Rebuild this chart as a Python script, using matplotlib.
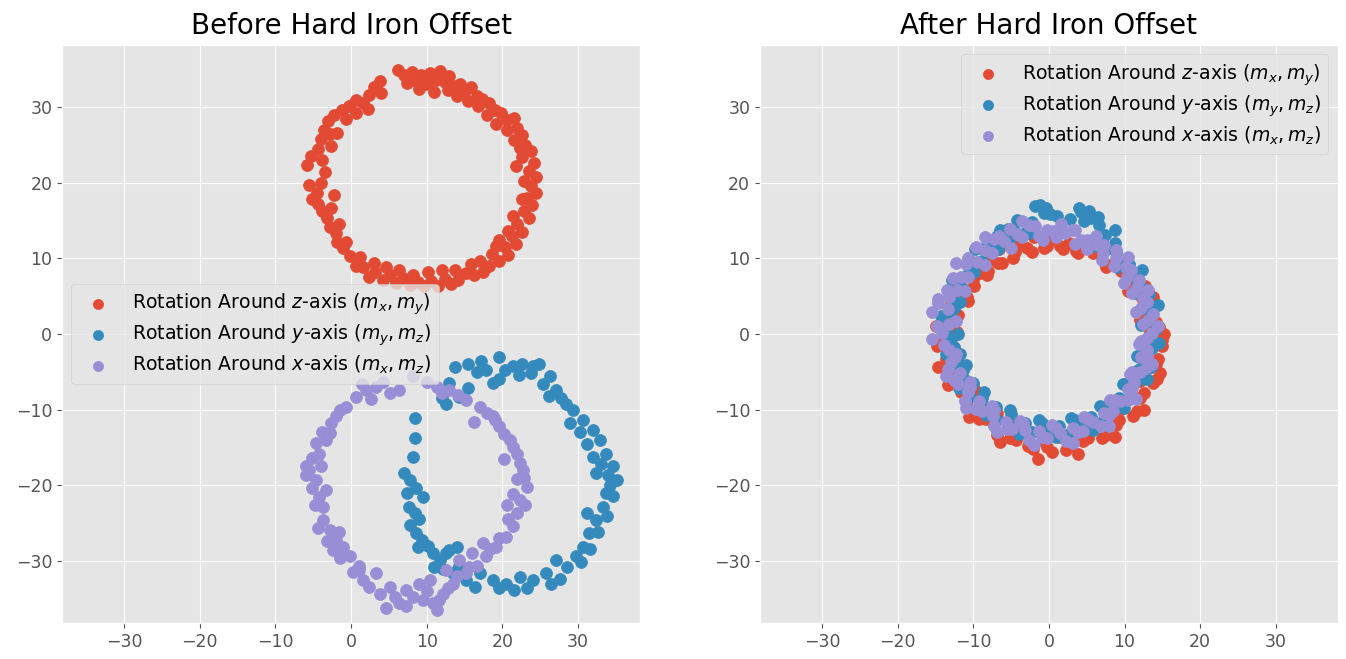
import matplotlib
matplotlib.use('Agg')
import matplotlib.pyplot as plt

plt.style.use('ggplot')

# ---- data, (x, y) pairs ----
# before hard iron offset
before_z = [(6.2, 34.9), (7.0, 34.3), (8.0, 34.6), (8.6, 33.5), (9.3, 34.2), (9.9, 33.0), (10.5, 34.5),
            (11.2, 33.6), (11.8, 34.8), (12.4, 33.3), (13.0, 34.1), (13.6, 32.8), (14.4, 33.0), (15.1, 32.1),
            (15.9, 32.6), (16.6, 31.5), (17.3, 31.0), (18.3, 30.6), (19.0, 29.6), (19.8, 29.2), (20.6, 28.3),
            (21.5, 28.6), (22.0, 27.2), (22.6, 26.3), (23.0, 25.0), (23.8, 24.2), (22.6, 23.4), (24.2, 22.6),
            (23.5, 21.5), (24.5, 20.8), (23.8, 19.6), (24.4, 18.7), (23.2, 18.0), (23.9, 17.0), (22.8, 16.2),
            (23.5, 15.3), (22.0, 14.6), (22.6, 13.5), (21.3, 13.0), (21.8, 11.9), (20.4, 11.5), (19.2, 11.6),
            (20.8, 10.4), (19.6, 9.7), (18.2, 9.0), (17.4, 8.2), (16.3, 7.8), (15.2, 8.1), (14.2, 7.1),
            (13.2, 6.6), (12.4, 7.3), (11.5, 6.4), (10.6, 7.0), (9.7, 6.3), (8.8, 6.9), (7.8, 6.5), (6.9, 7.4),
            (6.0, 6.8), (5.1, 7.8), (4.2, 7.2), (3.2, 8.2), (2.4, 7.6), (1.6, 8.9), (0.6, 9.0), (-0.2, 10.3),
            (-1.0, 11.4), (-1.8, 12.1), (-2.0, 13.4), (-2.8, 14.2), (-3.2, 15.3), (-3.9, 16.3), (-4.4, 17.2),
            (-5.2, 17.8), (-4.5, 18.6), (-5.6, 19.7), (-2.2, 18.4), (-3.5, 21.4), (-5.8, 22.3), (-5.3, 23.5),
            (-4.4, 24.5), (-4.0, 25.8), (-3.6, 27.0), (-2.8, 26.4), (-3.1, 28.2), (-2.2, 28.9), (-1.2, 29.6),
            (-0.3, 30.2), (0.7, 30.9), (1.6, 30.6), (2.4, 31.6), (3.0, 32.6), (3.8, 33.4), (4.0, 31.9),
            (7.4, 33.2), (9.0, 32.4), (10.2, 33.2), (11.0, 32.0), (12.8, 32.2), (14.0, 31.4), (15.4, 30.8),
            (16.8, 30.2), (18.0, 29.0), (19.2, 27.8), (20.6, 27.0), (21.6, 25.6), (22.4, 24.6), (21.8, 22.2),
            (22.9, 20.2), (22.6, 17.8), (21.4, 15.6), (20.8, 13.6), (19.6, 12.4), (18.6, 10.6), (17.0, 9.6),
            (15.8, 9.2), (13.8, 8.4), (12.0, 8.4), (10.2, 8.2), (8.2, 7.8), (6.4, 8.4), (4.6, 8.8), (3.0, 9.4),
            (1.2, 10.2), (-0.6, 12.2), (-1.6, 14.6), (-2.6, 16.6), (-4.0, 20.0), (-3.8, 23.0), (-2.6, 24.8),
            (-1.8, 26.6), (-0.6, 28.4), (0.6, 29.2), (2.2, 29.8)]

before_y = [(19.6, -3.0), (21.4, -4.2), (22.6, -3.9), (23.8, -5.2), (24.9, -3.9), (26.3, -5.6), (27.1, -7.4),
            (17.9, -4.8), (18.8, -6.5), (19.6, -6.0), (16.6, -5.0), (13.0, -6.5), (14.3, -8.3), (12.6, -9.2),
            (12.0, -8.5), (15.4, -7.2), (28.4, -9.2), (29.3, -10.0), (30.7, -11.4), (32.0, -12.7), (32.9, -14.0),
            (33.7, -15.8), (34.6, -17.5), (35.1, -19.3), (33.7, -21.0), (33.3, -22.8), (32.4, -24.6),
            (31.5, -26.3), (30.7, -28.1), (29.8, -29.4), (32.0, -16.2), (32.4, -18.4), (34.2, -20.0),
            (31.2, -23.6), (27.1, -29.9), (25.8, -31.6), (24.1, -32.5), (22.3, -32.1), (20.5, -33.0),
            (18.8, -32.5), (17.0, -31.6), (15.2, -32.5), (13.5, -31.6), (11.7, -29.9), (10.8, -29.0),
            (12.6, -29.0), (14.3, -30.7), (8.4, -11.1), (8.4, -13.7), (8.2, -16.2), (7.0, -18.4), (7.8, -19.3),
            (8.6, -20.3), (7.4, -21.0), (9.5, -21.5), (7.6, -22.8), (8.4, -23.7), (9.0, -24.5), (7.8, -25.2),
            (8.6, -26.3), (9.4, -27.2), (8.8, -28.1),
            (13.8, -4.4), (15.4, -4.0), (17.2, -3.6), (20.4, -4.8), (22.2, -5.4), (24.0, -4.2), (25.4, -6.6),
            (26.2, -8.2), (27.8, -8.4), (29.0, -11.8), (30.2, -13.0), (31.2, -14.6), (33.0, -17.2),
            (34.0, -18.6), (34.6, -21.4), (33.8, -24.0), (32.6, -26.2), (31.6, -28.4), (30.4, -30.2),
            (28.6, -30.8), (27.6, -32.4), (26.4, -33.0), (23.2, -33.6), (21.6, -33.8), (19.6, -33.6),
            (16.4, -33.4), (12.2, -31.0), (11.0, -30.8), (13.0, -28.6), (14.0, -28.2), (10.2, -28.0)]

before_x = [(0.7, -8.3), (2.0, -7.4), (3.3, -7.0), (5.1, -7.8), (6.4, -7.4), (8.2, -5.6), (11.3, -7.0),
            (13.0, -7.4), (15.2, -8.7), (17.0, -9.6), (18.8, -10.9), (19.6, -12.2), (21.0, -14.0),
            (21.9, -15.8), (22.7, -18.0), (23.2, -20.2), (22.3, -21.9), (21.9, -23.7), (21.4, -25.4),
            (20.5, -26.8), (19.2, -28.1), (17.9, -29.4), (16.6, -30.7), (15.2, -31.6), (13.5, -33.0),
            (12.1, -34.3), (10.8, -35.6), (11.3, -36.5), (9.5, -35.1), (8.2, -34.7), (6.4, -35.6), (5.1, -33.4),
            (3.8, -34.3), (3.3, -31.6), (1.6, -32.5), (1.1, -30.7), (-0.2, -29.4), (-1.1, -28.1), (-2.0, -27.2),
            (-2.8, -25.9), (-3.7, -24.6), (-3.7, -22.8), (-4.2, -21.5), (-3.3, -20.6), (-4.6, -19.3),
            (-5.5, -18.0), (-5.9, -17.5), (-4.2, -15.8), (-3.3, -14.0), (-4.6, -14.4), (-2.8, -13.1),
            (-2.0, -10.9), (-0.6, -9.6), (14.3, -29.9), (12.6, -31.2), (10.4, -32.5), (9.0, -33.0),
            (16.0, -29.0), (17.5, -27.6), (14.2, -8.0), (16.2, -11.6), (20.2, -16.5), (22.8, -19.0),
            (23.0, -22.6), (20.8, -24.4), (7.2, -36.0), (4.6, -36.2), (1.0, -31.2), (-1.6, -26.2),
            (1.4, -6.6), (4.2, -6.4), (2.6, -8.6), (10.0, -6.4), (12.0, -7.8), (18.0, -10.4), (19.0, -11.4),
            (20.2, -13.2), (21.4, -15.0), (22.4, -17.0), (22.0, -19.2), (21.4, -21.2), (20.6, -22.6),
            (19.6, -27.0), (18.4, -28.4), (15.6, -30.8), (14.0, -32.0), (12.8, -33.6), (11.6, -35.2),
            (10.0, -34.0), (7.2, -33.8), (5.8, -34.8), (2.4, -33.4), (0.2, -31.4), (-1.4, -29.6),
            (-2.4, -28.6), (-3.2, -27.4), (-4.4, -25.6), (-4.8, -22.6), (-5.2, -20.4), (-6.0, -18.6),
            (-4.0, -17.4), (-5.2, -16.4), (-3.8, -13.0), (-2.6, -11.8), (-1.4, -10.0)]

# after hard iron offset
after_z = [(14.9, -0.8), (14.2, 1.6), (13.1, 3.8), (12.7, 6.3), (10.7, 7.8), (9.3, 9.8), (7.0, 10.6),
           (5.1, 12.0), (2.7, 12.0), (0.4, 12.5), (-2.0, 12.8), (-4.1, 11.6), (-6.6, 11.2), (-8.2, 9.5),
           (-10.3, 8.2), (-11.4, 6.0), (-13.0, 4.1), (-13.4, 1.6), (-14.2, -0.8), (-13.6, -3.3), (-13.1, -5.7),
           (-11.6, -7.7), (-10.5, -9.9), (-8.3, -11.2), (-6.8, -13.3), (-4.4, -14.0), (-2.1, -15.2),
           (0.4, -15.6), (2.9, -14.8), (5.1, -13.8), (7.6, -13.3), (9.3, -11.4), (11.6, -10.2), (12.5, -7.8),
           (14.3, -5.9), (14.4, -3.3),
           (13.3, 0.3), (12.6, 2.5), (12.3, 4.7), (10.6, 6.4), (9.5, 8.3), (7.5, 9.3), (5.8, 10.7), (3.6, 11.0),
           (1.5, 11.6), (-0.7, 11.4), (-2.9, 11.4), (-4.7, 10.1), (-6.7, 9.4), (-8.2, 7.8), (-9.9, 6.4),
           (-10.7, 4.4), (-12.0, 2.5), (-12.1, 0.3), (-12.5, -1.9), (-11.8, -4.1), (-11.4, -6.3), (-9.8, -8.0),
           (-8.8, -10.0), (-6.8, -11.1), (-5.2, -12.8), (-2.9, -13.2), (-0.8, -14.1), (1.5, -13.6),
           (3.8, -13.6), (5.8, -12.3), (8.0, -11.6), (9.5, -9.9), (11.4, -8.5), (12.0, -6.2), (13.4, -4.3),
           (13.4, -1.9),
           (15.2, -0.0), (12.1, 1.9), (13.8, 4.9), (10.5, 5.7), (10.6, 8.7), (7.6, 8.8), (6.7, 11.5),
           (3.9, 10.7), (1.9, 11.3), (-0.2, 11.6), (-2.3, 10.9), (-4.5, 10.8), (-6.2, 9.4), (-8.1, 8.3),
           (-10.1, 7.1), (-10.8, 4.9), (-12.6, 3.2), (-14.9, 1.1), (-14.8, -1.6), (-14.6, -4.3),
           (-13.4, -6.7), (-9.8, -7.4), (-10.6, -11.0), (-6.8, -10.4), (-6.5, -14.3), (-3.2, -12.5),
           (-1.5, -16.5), (1.0, -13.2), (3.9, -15.8), (5.2, -12.0), (8.7, -13.6), (8.7, -9.7), (12.5, -10.0),
           (11.3, -6.3), (14.7, -5.2), (12.7, -2.3),
           (-13.5, -2.5), (-12.6, -4.8), (-9.3, -11.2), (-5.1, -13.7), (-2.8, -14.8), (-0.3, -15.0),
           (2.2, -15.3), (4.5, -14.2), (7.0, -13.8), (8.8, -12.0), (11.1, -10.8), (12.1, -8.4), (13.8, -6.5),
           (14.2, -4.0), (15.0, -1.6), (14.5, 0.9), (13.8, 3.3), (11.3, 7.4), (-9.1, 8.1), (-11.9, 4.4),
           (-13.2, -0.1)]

after_y = [(14.2, 0.6), (13.4, 2.9), (13.2, 5.3), (11.6, 7.2), (10.6, 9.3), (8.8, 10.9), (7.4, 13.1),
           (5.5, 15.3), (4.3, 16.1), (2.8, 15.2), (0.2, 15.8), (-1.2, 17.1), (-2.3, 14.8), (-4.6, 13.8),
           (-6.9, 12.9), (-8.7, 11.2), (-10.5, 9.6), (-11.6, 7.4), (-13.1, 5.5), (-13.0, 2.9), (-13.6, 0.6),
           (-12.6, -1.7), (-12.6, -4.1), (-11.2, -6.0), (-10.4, -8.3), (-8.4, -9.7), (-6.8, -11.4),
           (-4.3, -11.8), (-2.2, -13.0), (0.2, -12.8), (2.6, -13.2), (4.8, -12.0), (7.2, -11.5), (8.9, -9.7),
           (10.9, -8.4), (11.8, -6.1), (13.5, -4.3), (13.6, -1.8),
           (13.0, 1.7), (12.8, 4.0), (11.6, 5.9), (10.8, 8.1), (9.1, 9.5), (7.8, 11.4), (6.6, 14.4),
           (5.3, 16.2), (1.4, 13.9), (-0.4, 16.6), (-3.2, 13.4), (-5.3, 12.4), (-7.5, 11.6), (-8.9, 9.7),
           (-10.6, 8.2), (-11.4, 6.0), (-12.7, 4.1), (-12.4, 1.7), (-12.9, -0.6), (-11.8, -2.6),
           (-11.4, -4.8), (-10.0, -6.5), (-8.8, -8.4), (-7.0, -9.7), (-5.0, -10.6), (-3.1, -11.8),
           (-0.9, -11.8), (1.3, -12.2), (3.4, -11.4), (5.6, -11.0), (7.4, -9.7), (9.2, -8.4), (10.4, -6.5),
           (11.8, -4.8), (12.4, -2.7), (13.1, -0.5),
           (12.2, 1.2), (14.4, 3.9), (11.4, 5.4), (12.3, 8.4), (9.0, 8.8), (8.7, 12.0), (5.8, 11.6),
           (4.6, 14.9), (1.8, 13.5), (-0.6, 16.0), (-2.7, 13.3), (-5.4, 13.9), (-6.7, 11.2), (-9.8, 11.3),
           (-9.9, 8.2), (-12.8, 7.2), (-11.7, 4.2), (-14.3, 2.4), (-12.0, -0.0), (-13.6, -2.6),
           (-10.9, -4.1), (-11.9, -7.2), (-8.6, -7.6), (-8.3, -10.7), (-5.2, -10.1), (-4.0, -13.2),
           (-1.3, -11.3), (0.9, -13.6), (2.9, -11.1), (5.8, -12.7), (6.7, -9.5), (9.9, -9.8), (9.8, -6.6),
           (13.0, -5.9), (11.7, -2.9), (14.5, -1.2),
           (8.7, 13.7), (6.5, 15.5), (4.0, 16.6), (1.0, 15.6), (-1.8, 16.9), (-4.2, 15.1), (-6.5, 13.8),
           (-4.9, -11.4), (4.1, -12.0), (-12.2, -3.2), (-12.5, 3.5), (12.0, 6.6), (12.2, -4.5)]

after_x = [(13.6, 0.2), (13.8, 2.7), (12.4, 4.8), (11.9, 7.2), (10.2, 8.9), (8.9, 11.1), (6.5, 11.8),
           (4.2, 12.4), (2.1, 13.4), (-0.2, 13.8), (-2.7, 14.4), (-5.2, 13.9), (-7.3, 12.5), (-9.7, 11.5),
           (-10.9, 9.2), (-12.7, 7.4), (-13.2, 4.9), (-14.7, 4.1), (-15.4, 2.9), (-14.2, 0.2), (-13.2, -2.1),
           (-13.4, -4.6), (-12.0, -6.6), (-11.1, -8.9), (-8.9, -10.2), (-7.3, -12.1), (-4.9, -12.6),
           (-2.7, -14.0), (-0.2, -13.8), (2.3, -14.2), (4.5, -12.8), (6.9, -12.1), (8.5, -10.2), (10.4, -8.7),
           (11.2, -6.4), (12.8, -4.5), (13.0, -2.1),
           (12.4, 1.3), (12.2, 3.5), (11.0, 5.4), (10.3, 7.5), (8.6, 9.0), (7.1, 10.7), (5.0, 11.3),
           (3.4, 13.7), (0.9, 12.8), (-1.3, 13.0), (-3.6, 12.8), (-5.9, 12.3), (-7.5, 10.7), (-9.5, 9.5),
           (-10.7, 7.5), (-12.2, 5.8), (-13.2, 1.3), (-12.4, -3.1), (-11.8, -5.2), (-10.5, -7.0),
           (-9.2, -8.8), (-7.3, -10.0), (-5.7, -11.6), (-3.4, -11.8), (-1.3, -12.8), (0.9, -12.4),
           (3.2, -12.4), (5.1, -11.2), (7.3, -10.4), (8.7, -8.7), (10.4, -7.3), (11.0, -5.0), (12.2, -3.1),
           (12.2, -0.9),
           (14.4, 1.0), (11.5, 2.9), (13.1, 5.8), (9.9, 6.7), (10.5, 10.2), (7.0, 9.8), (6.2, 12.9),
           (3.4, 11.9), (1.6, 14.5), (-0.8, 12.4), (-3.6, 15.0), (-5.0, 11.4), (-8.4, 12.8), (-8.5, 9.1),
           (-12.3, 9.4), (-11.1, 5.7), (-14.7, 4.6), (-12.3, 1.7), (-15.4, -0.6), (-12.3, -2.6),
           (-13.6, -5.5), (-10.4, -6.4), (-10.9, -9.8), (-7.5, -9.5), (-6.9, -13.0), (-3.8, -11.5),
           (-2.0, -14.7), (0.4, -12.0), (3.2, -14.4), (4.6, -11.0), (7.9, -12.2), (8.1, -8.7), (11.5, -8.6),
           (10.7, -5.3), (13.6, -4.0), (11.9, -1.3),
           (13.1, 1.8), (13.0, 4.2), (11.6, 6.2), (10.8, 8.5), (8.9, 10.0), (7.3, 11.8), (5.0, 12.4),
           (3.0, 13.8), (0.5, 13.6), (-1.9, 14.3), (-4.2, 13.2), (-6.6, 12.9), (-8.4, 11.1), (-10.7, 10.0),
           (-11.6, 7.6), (-13.5, 5.8), (-13.4, 3.3), (-14.8, 1.0), (-13.9, -1.5), (-13.0, -3.7),
           (-12.5, -6.1), (-10.7, -7.7), (-9.6, -9.9), (-7.4, -10.9), (-5.6, -12.5), (-3.2, -12.7),
           (-0.9, -13.6), (1.4, -13.1), (3.8, -13.0), (5.8, -11.6), (8.0, -10.7), (9.4, -8.8), (11.0, -7.1),
           (12.0, -5.0), (13.0, -2.9), (13.0, -0.5)]

labels = [r'Rotation Around $z$-axis $(m_x, m_y)$',
          r'Rotation Around $y$-axis $(m_y, m_z)$',
          r'Rotation Around $x$-axis $(m_x, m_z)$']

lim = 38.2
ms = 74

fig = plt.figure(figsize=(13.46, 6.59), dpi=100)
ax1 = fig.add_axes([0.0461, 0.0546, 0.4294, 0.8771])
ax2 = fig.add_axes([0.5646, 0.0546, 0.4294, 0.8771])

for ax, groups in ((ax1, (before_z, before_y, before_x)), (ax2, (after_z, after_y, after_x))):
    for pts, lab in zip(groups, labels):
        xs = [p[0] for p in pts]
        ys = [p[1] for p in pts]
        ax.scatter(xs, ys, s=ms, label=lab)
    ax.set_xlim(-lim, lim)
    ax.set_ylim(-lim, lim)
    ax.set_xticks([-30, -20, -10, 0, 10, 20, 30])
    ax.set_yticks([-30, -20, -10, 0, 10, 20, 30])
    ax.tick_params(labelsize=12.5)

ax1.set_title('Before Hard Iron Offset', fontsize=20, pad=8)
ax1.legend(loc='center left', fontsize=13.6, labelspacing=0.3, markerscale=0.85)
ax2.set_title('After Hard Iron Offset', fontsize=20, pad=8)
ax2.legend(loc='upper right', fontsize=13.6, labelspacing=0.3, markerscale=0.85)

fig.savefig('out.png', dpi=100)
